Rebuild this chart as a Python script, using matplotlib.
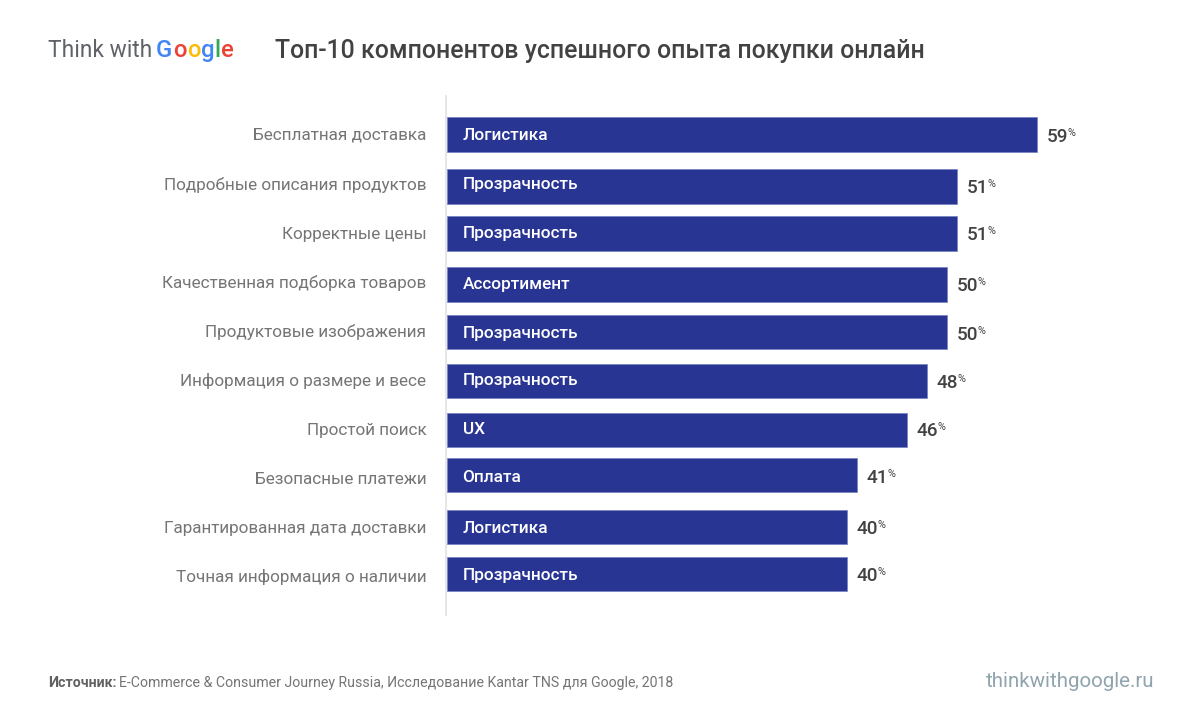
import matplotlib
matplotlib.use('Agg')
import matplotlib.pyplot as plt

plt.rcParams['font.family'] = ['Roboto', 'DejaVu Sans']

W, H = 1201, 723

labels = ['Бесплатная доставка', 'Подробные описания продуктов', 'Корректные цены',
          'Качественная подборка товаров', 'Продуктовые изображения',
          'Информация о размере и весе', 'Простой поиск', 'Безопасные платежи',
          'Гарантированная дата доставки', 'Точная информация о наличии']
values = [59, 51, 51, 50, 50, 48, 46, 41, 40, 40]
cats = ['Логистика', 'Прозрачность', 'Прозрачность', 'Ассортимент', 'Прозрачность',
        'Прозрачность', 'UX', 'Оплата', 'Логистика', 'Прозрачность']
# rows are not evenly spaced in the original, so keep the centres (pixel rows)
rows = [134.5, 186.5, 233.5, 284.5, 332, 381, 430, 475, 527, 574]
label_rows = [134, 183.5, 233, 281.5, 331, 379.5, 429, 478, 527, 575.5]
# baselines of the texts inside and after the bars
cat_base = [140, 189, 238, 289, 338, 385, 434, 482, 533, 580]
val_base = [142, 193, 240, 291, 340, 388, 436, 483, 534, 581]

fig = plt.figure(figsize=(W / 100, H / 100), dpi=100, facecolor='white')
ax = fig.add_axes([447 / W, 1 - 615 / H, 700 / W, (615 - 96) / H])
ax.set_xlim(0, 70)
ax.set_ylim(615, 96)

ax.barh(rows, values, height=34.6, color='#283593', edgecolor='#7480c0', linewidth=0.5)

for s in ['top', 'right', 'bottom']:
    ax.spines[s].set_visible(False)
ax.spines['left'].set_color('#e6e6e6')
ax.spines['left'].set_linewidth(1.4)
ax.spines['left'].set_position(('outward', 0.72))
ax.set_xticks([])
ax.set_yticks(label_rows)
ax.set_yticklabels(labels, fontsize=12.35, color='#757575')
ax.tick_params(axis='y', length=0, pad=14.2)

for v, c, cb, vb in zip(values, cats, cat_base, val_base):
    ax.text(1.55, cb, c, color='white', fontsize=12.4, fontweight='medium', va='baseline')
    ax.text(v + 0.95, vb, str(v), color='#424242', fontsize=13.6, fontweight='medium', va='baseline')
    ax.text(v + 3.1, vb - 6, '%', color='#424242', fontsize=7.8, va='baseline')


def px_text(x, y, s, **kw):
    return fig.text(x / W, 1 - y / H, s, va='baseline', **kw)


px_text(275, 58, 'Топ-10 компонентов успешного опыта покупки онлайн',
        fontsize=17.92, fontweight='medium', color='#424242')

# logo: letters placed one after the other
fig.canvas.draw()
r = fig.canvas.get_renderer()
t = px_text(48, 57, 'Think with', fontsize=16.4, color='#5f6368')
x = 156
for ch, col in zip('Google', ['#4285f4', '#ea4335', '#fbbc05', '#4285f4', '#34a853', '#ea4335']):
    t = px_text(x, 57, ch, fontsize=17.2, color=col, fontweight='medium')
    x = t.get_window_extent(r).x1 + 0.5

t = px_text(48, 687, 'Источник:', fontsize=10.15, fontweight='bold', color='#616161')
px_text(119, 687,
        'E-Commerce & Consumer Journey Russia, Исследование Kantar TNS для Google, 2018',
        fontsize=10.15, color='#757575')
px_text(1154, 687, 'thinkwithgoogle.ru', fontsize=14.75, color='#90a4ae', ha='right')

fig.savefig('out.png', dpi=100)
